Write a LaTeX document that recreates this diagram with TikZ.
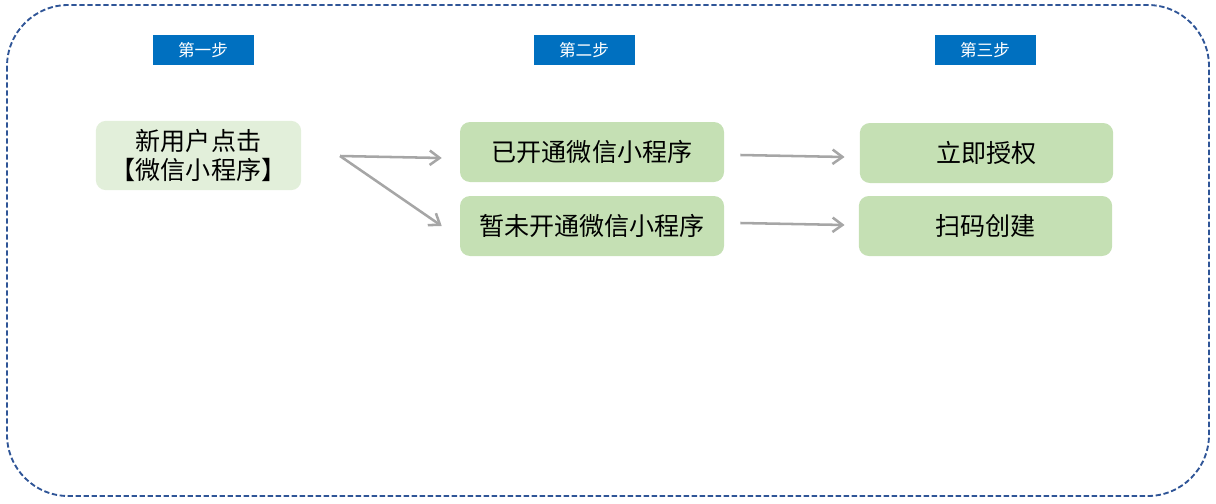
\documentclass[tikz,border=0pt]{standalone}
\usepackage{fontspec}
\usepackage{tikz}
\usetikzlibrary{arrows.meta,positioning,calc}
\newfontfamily\cjk{Noto Sans CJK SC}
\definecolor{StepBlue}{HTML}{0070C0}
\definecolor{FrameBlue}{HTML}{2F5597}
\definecolor{PaleGreen}{HTML}{E2EFDA}
\definecolor{SoftGreen}{HTML}{C5E0B4}
\definecolor{ArrGray}{HTML}{A6A6A6}

\begin{document}
\begin{tikzpicture}[x=0.75pt,y=-0.75pt, every node/.style={font=\cjk}, tag/.style={fill=StepBlue,text=white,minimum width=75.75pt,minimum height=22pt,inner sep=0pt,font=\cjk\fontsize{12.5}{14}\selectfont}, box/.style={rounded corners=7.5pt,align=center,minimum width=198pt,minimum height=45pt,inner sep=0pt,fill=SoftGreen,font=\cjk\fontsize{18.8}{22}\selectfont}, arr/.style={-{Straight Barb[length=2.6mm,width=3.8mm]},line width=1.9pt,ArrGray}]
\useasboundingbox (0,0) rectangle (1216,503);
\draw[FrameBlue,line width=1.4pt,dash pattern=on 4pt off 2pt,rounded corners=46pt] (7,5) rectangle (1209,496);
% step tags
\node[tag] (tag1) at (203,50) {第一步};
\node[tag] (tag2) at (584,50) {第二步};
\node[tag] (tag3) at (985,50) {第三步};
% flow
\node[box,fill=PaleGreen,minimum width=154pt,minimum height=52pt,text width=150pt] (user) at (198.5,155.5) {新用户点击\\【微信小程序】};
\node[box] (open) at (592,152) {已开通微信小程序};
\node[box] (notopen) at (592,226) {暂未开通微信小程序};
\node[box,minimum width=190pt] (auth) at (986.5,153) {立即授权};
\node[box,minimum width=190pt] (scan) at (985.5,226) {扫码创建};
\coordinate (fork) at (340,156);
\draw[arr] (fork) -- ([xshift=-13.5pt,yshift=-4.5pt]open.west);
\draw[arr] (fork) -- ([xshift=-13.5pt]notopen.west);
\draw[arr] ([xshift=12pt,yshift=-2.25pt]open.east) -- ([xshift=-11.25pt,yshift=-3pt]auth.west);
\draw[arr] ([xshift=12pt,yshift=2.25pt]notopen.east) -- ([xshift=-10.5pt,yshift=0.75pt]scan.west);
\end{tikzpicture}
\end{document}
